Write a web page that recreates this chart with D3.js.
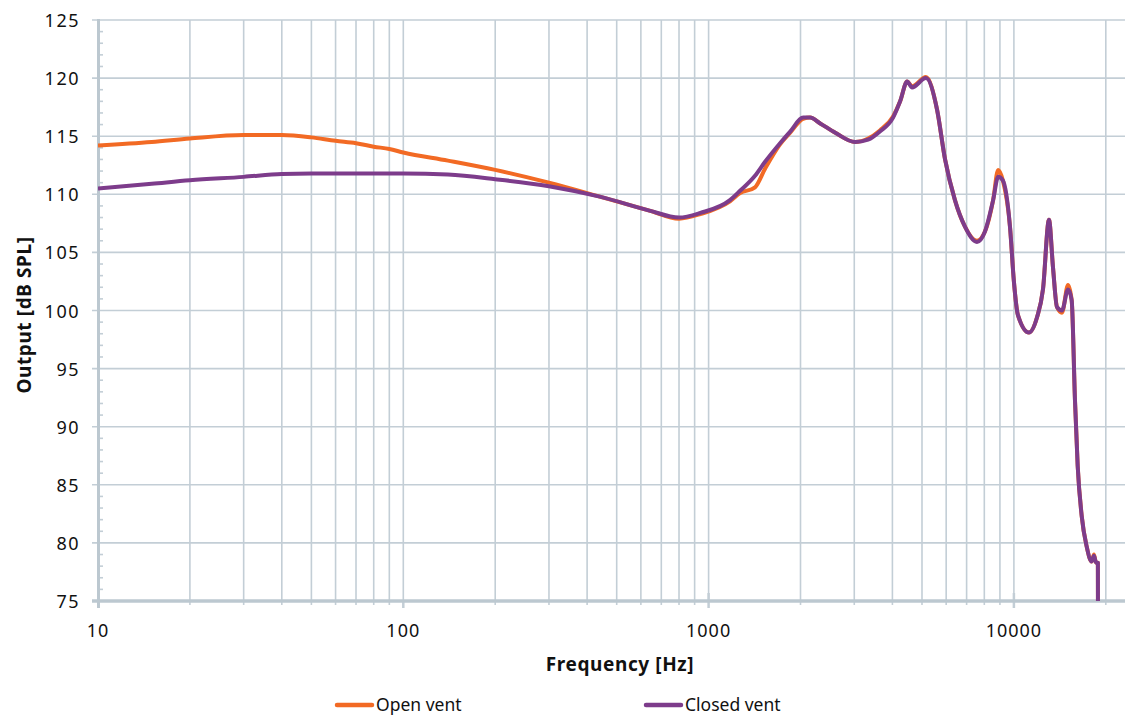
<!DOCTYPE html>
<html><head><meta charset="utf-8">
<script src="https://cdn.jsdelivr.net/npm/d3@7"></script>
<style>
html,body{margin:0;padding:0;background:#fff;overflow:hidden}
text{font-family:"Noto Sans",sans-serif;fill:#111}
</style></head>
<body><svg id="c" width="1125" height="718"></svg>
<script>
const freqs = [10,15,20,30,40,50,60,70,80,90,100,140,200,300,440,640,800,940,1175,1268,1419,1531,1714,1850,2040,2150,2320,2600,3020,3330,3640,4020,4240,4470,4640,5150,5600,5950,6410,6920,7570,8040,8550,8880,9200,9710,10000,10310,11200,11900,12450,13030,13430,13840,14370,15040,15460,15850,16180,16680,17310,17980,18290,18580,18840,18850];
const openVent = [114.2,114.5,114.8,115.1,115.1,114.9,114.6,114.4,114.1,113.9,113.6,112.9,112.1,111.0,109.8,108.6,107.9,108.3,109.4,110.1,110.6,112.2,114.3,115.3,116.5,116.6,116.1,115.3,114.5,114.8,115.5,116.7,118.0,119.7,119.3,120.1,117.3,113.0,109.5,107.2,106.0,106.8,109.5,112.1,111.2,107.2,102.5,99.6,98.1,99.4,101.8,107.8,103.7,100.3,99.8,102.2,100.9,92.3,86.6,82.3,79.7,78.4,79.0,78.3,78.3,75];
const closedVent = [110.5,110.9,111.2,111.5,111.75,111.8,111.8,111.8,111.8,111.8,111.8,111.7,111.3,110.7,109.8,108.6,108.0,108.4,109.5,110.3,111.6,112.8,114.4,115.4,116.6,116.6,116.1,115.3,114.5,114.7,115.4,116.6,118.0,119.7,119.2,120.0,117.3,113.0,109.5,107.2,105.9,106.8,109.5,111.5,111.2,107.2,102.5,99.6,98.1,99.4,101.8,107.8,103.7,100.3,100.0,101.8,100.9,92.3,86.6,82.3,79.7,78.4,78.9,78.3,78.3,75];
const yTicks = [75,80,85,90,95,100,105,110,115,120,125];
const xTickLabels = [10,100,1000,10000];
const seriesNames = ["Open vent","Closed vent"];
const colors = ["#F26A24","#7D3C8B"];

const svg = d3.select("#c");
const x = d3.scaleLog().domain([10,100000]).range([98, 98+4*305.3]);
const y = d3.scaleLinear().domain([75,125]).range([601,20]);
const grid = "#c3ced6";
const right = 1125;

svg.append("defs").append("clipPath").attr("id","clip").append("rect")
  .attr("x",98).attr("y",0).attr("width",right-98).attr("height",601);

// vertical grid
const vlines = [];
for (let k=1;k<=4;k++){ for(let d=1;d<=9;d++){ const v=d*Math.pow(10,k); if(v>10) vlines.push(v);} }
svg.append("g").selectAll("line").data(vlines).join("line")
  .attr("x1",d=>x(d)).attr("x2",d=>x(d)).attr("y1",y(125)).attr("y2",y(75))
  .attr("stroke",grid).attr("stroke-width",1.6);
// horizontal grid
svg.append("g").selectAll("line").data(yTicks.filter(v=>v>75)).join("line")
  .attr("x1",92).attr("x2",right).attr("y1",d=>y(d)).attr("y2",d=>y(d))
  .attr("stroke",grid).attr("stroke-width",1.6);

// y axis minor ticks
const yMinor = d3.range(76,125).filter(v=>v%5!==0);
svg.append("g").selectAll("line").data(yMinor).join("line")
  .attr("x1",98).attr("x2",103).attr("y1",d=>y(d)).attr("y2",d=>y(d))
  .attr("stroke",grid).attr("stroke-width",1.6);
// x axis minor ticks
svg.append("g").selectAll("line").data(vlines).join("line")
  .attr("x1",d=>x(d)).attr("x2",d=>x(d)).attr("y1",601).attr("y2",d=>[100,1000,10000].includes(d)?608:605)
  .attr("stroke",grid).attr("stroke-width",d=>[100,1000,10000].includes(d)?2.5:1.6);
svg.append("g").selectAll("line").data([1000,10000]).join("line")
  .attr("x1",d=>x(d)).attr("x2",d=>x(d)).attr("y1",593).attr("y2",601)
  .attr("stroke",grid).attr("stroke-width",2.5);

// axes lines
svg.append("line").attr("x1",98.5).attr("x2",98.5).attr("y1",y(125)-1).attr("y2",608)
  .attr("stroke","#bcc8d0").attr("stroke-width",3);
svg.append("line").attr("x1",92).attr("x2",right).attr("y1",601).attr("y2",601)
  .attr("stroke","#bcc8d0").attr("stroke-width",3.5);

// tick labels
svg.append("g").selectAll("text").data(yTicks).join("text")
  .attr("x",80).attr("y",d=>y(d)+7).attr("text-anchor","end")
  .attr("font-size",18).attr("letter-spacing","1.5px").text(d=>d);
svg.append("g").selectAll("text").data(xTickLabels).join("text")
  .attr("x",d=>x(d)).attr("y",637).attr("text-anchor","middle")
  .attr("font-size",18).attr("letter-spacing","1px").text(d=>d);

// axis titles
svg.append("text").attr("x",620).attr("y",671).attr("text-anchor","middle")
  .attr("font-size",19).attr("font-weight","bold").attr("letter-spacing","0.6px").text("Frequency [Hz]");
svg.append("text").attr("transform","translate(31,315) rotate(-90)").attr("text-anchor","middle")
  .attr("font-size",19).attr("font-weight","bold").attr("letter-spacing","0.6px").text("Output [dB SPL]");

// lines
const line = d3.line().x(d=>x(d[0])).y(d=>y(d[1])).curve(d3.curveMonotoneX);
const g = svg.append("g").attr("clip-path","url(#clip)");
[openVent, closedVent].forEach((vals,i)=>{
  g.append("path").datum(freqs.map((f,j)=>[f,vals[j]]))
    .attr("d",line).attr("fill","none").attr("stroke",colors[i])
    .attr("stroke-width",4).attr("stroke-linejoin","round");
});

// legend
const legX = [335, 644];
seriesNames.forEach((n,i)=>{
  svg.append("line").attr("x1",legX[i]+2).attr("x2",legX[i]+37).attr("y1",705).attr("y2",705)
    .attr("stroke",colors[i]).attr("stroke-width",4.5).attr("stroke-linecap","round");
  svg.append("text").attr("x",legX[i]+41).attr("y",711).attr("font-size",17.5).text(n);
});
</script></body></html>
